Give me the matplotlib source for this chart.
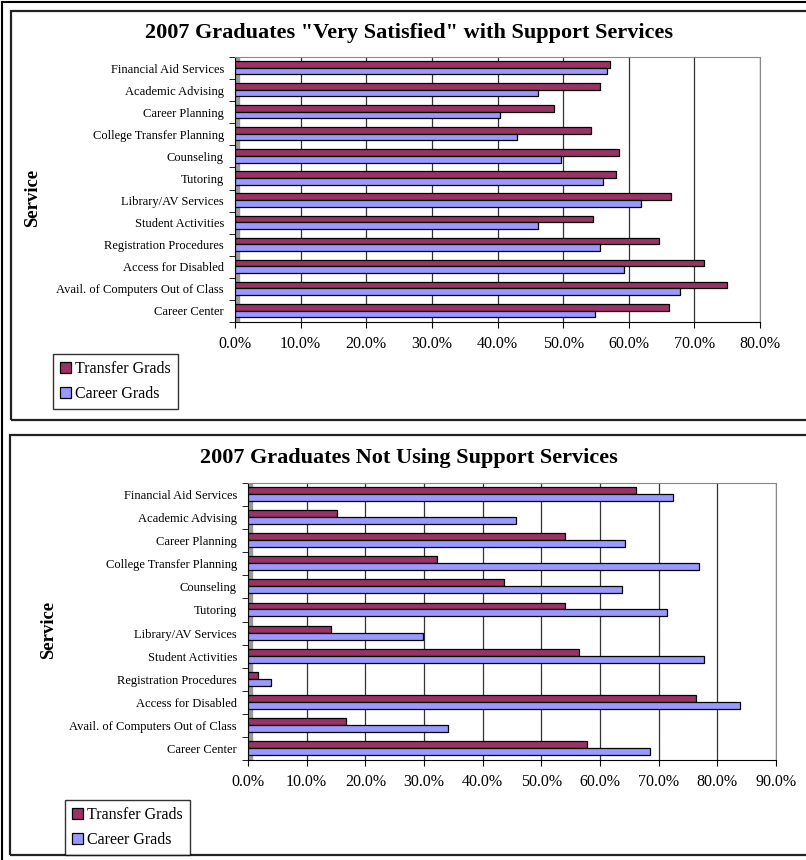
import matplotlib
matplotlib.use("Agg")
import matplotlib.pyplot as plt
from matplotlib.patches import Rectangle
import numpy as np

plt.rcParams["font.family"] = ["Liberation Serif", "DejaVu Serif"]

# data
services = ["Financial Aid Services", "Academic Advising", "Career Planning",
            "College Transfer Planning", "Counseling", "Tutoring",
            "Library/AV Services", "Student Activities", "Registration Procedures",
            "Access for Disabled", "Avail. of Computers Out of Class", "Career Center"]

satisfied_transfer = [57.2, 55.6, 48.6, 54.3, 58.5, 58.1, 66.5, 54.5, 64.6, 71.5, 74.9, 66.1]
satisfied_career = [56.7, 46.2, 40.4, 43.0, 49.6, 56.0, 61.8, 46.1, 55.6, 59.2, 67.8, 54.9]

notusing_transfer = [66.2, 15.2, 54.0, 32.3, 43.7, 54.0, 14.2, 56.4, 1.7, 76.3, 16.7, 57.7]
notusing_career = [72.5, 45.7, 64.3, 76.8, 63.8, 71.5, 29.9, 77.7, 3.9, 83.9, 34.1, 68.5]

titles = ['2007 Graduates "Very Satisfied" with Support Services',
          "2007 Graduates Not Using Support Services"]

transfer_color = "#993366"
career_color = "#9999FF"

W, H = 806, 860
fig = plt.figure(figsize=(W / 100, H / 100), dpi=100)


def fx(px):
    return px / W


def fy(py):
    return 1 - py / H


def panel(box, plot, xmax, title_y, label_x, legend_xy, trans, car, title):
    # frame round the panel
    x0, y0, x1, y1 = box
    fig.patches.append(Rectangle((fx(x0), fy(y1)), fx(x1 - x0), (y1 - y0) / H,
                                 transform=fig.transFigure, fill=False,
                                 edgecolor="#222222", linewidth=1.6))
    l, t, r, b = plot
    ax = fig.add_axes([fx(l), fy(b), fx(r - l), (b - t) / H])
    n = len(services)
    pos = np.arange(n)[::-1]
    h = 0.3
    ax.barh(pos + h / 2 + 0.02, trans, height=h, color=transfer_color,
            edgecolor="black", linewidth=0.9, label="Transfer Grads", zorder=3)
    ax.barh(pos - h / 2 + 0.02, car, height=h, color=career_color,
            edgecolor="black", linewidth=0.9, label="Career Grads", zorder=3)
    ax.set_xlim(0, xmax)
    ax.set_ylim(-0.5, n - 0.5)
    ax.set_xticks(np.arange(0, xmax + 1, 10))
    ax.set_xticklabels([f"{v:.1f}%" for v in np.arange(0, xmax + 1, 10)], fontsize=11.5)
    ax.set_yticks(pos)
    ax.set_yticklabels(services, fontsize=9)
    ax.set_yticks(np.arange(n + 1) - 0.5, minor=True)
    ax.tick_params(axis="y", which="major", length=0, pad=8)
    ax.tick_params(axis="y", which="minor", length=4, direction="out")
    ax.tick_params(axis="x", length=4, direction="out", pad=6)
    ax.grid(axis="x", color="#333333", linewidth=0.9, zorder=0)
    for s in ("top", "right"):
        ax.spines[s].set_color("#888888")
    ax.spines["left"].set_color("black")
    ax.spines["bottom"].set_color("black")
    ax.add_patch(Rectangle((0, 0), 0.007, 1, transform=ax.transAxes,
                           color="#999999", zorder=2))
    fig.text(fx(409), title_y, title,
             ha="center", va="center", fontsize=16, fontweight="bold")
    fig.text(label_x, fy((t + b) / 2 + 8), "Service", rotation=90, ha="center",
             va="center", fontsize=13.5, fontweight="bold")
    leg = fig.legend(handles=ax.get_legend_handles_labels()[0],
                     loc="upper left", bbox_to_anchor=legend_xy, fontsize=11.5,
                     frameon=True, fancybox=False, handlelength=0.65,
                     handleheight=0.65, handletextpad=0.3, labelspacing=0.55,
                     borderpad=0.45, borderaxespad=0)
    leg.get_frame().set_edgecolor("black")
    leg.get_frame().set_linewidth(1.0)
    return ax


panel((11, 11, 830, 420), (235, 57, 760, 322), 80, fy(33), fx(33),
      (fx(53), fy(354)), satisfied_transfer, satisfied_career, titles[0])
panel((10, 435, 830, 855), (248, 483, 776, 760), 90, fy(458), fx(49),
      (fx(65), fy(800)), notusing_transfer, notusing_career, titles[1])

# outer edge lines of the page
fig.add_artist(plt.Line2D([fx(1.5), fx(1.5)], [0, fy(2)], transform=fig.transFigure,
                          color="black", linewidth=1.5))
fig.add_artist(plt.Line2D([fx(1.5), 1], [fy(2), fy(2)], transform=fig.transFigure,
                          color="black", linewidth=1.5))

fig.savefig("out.png", dpi=100)
